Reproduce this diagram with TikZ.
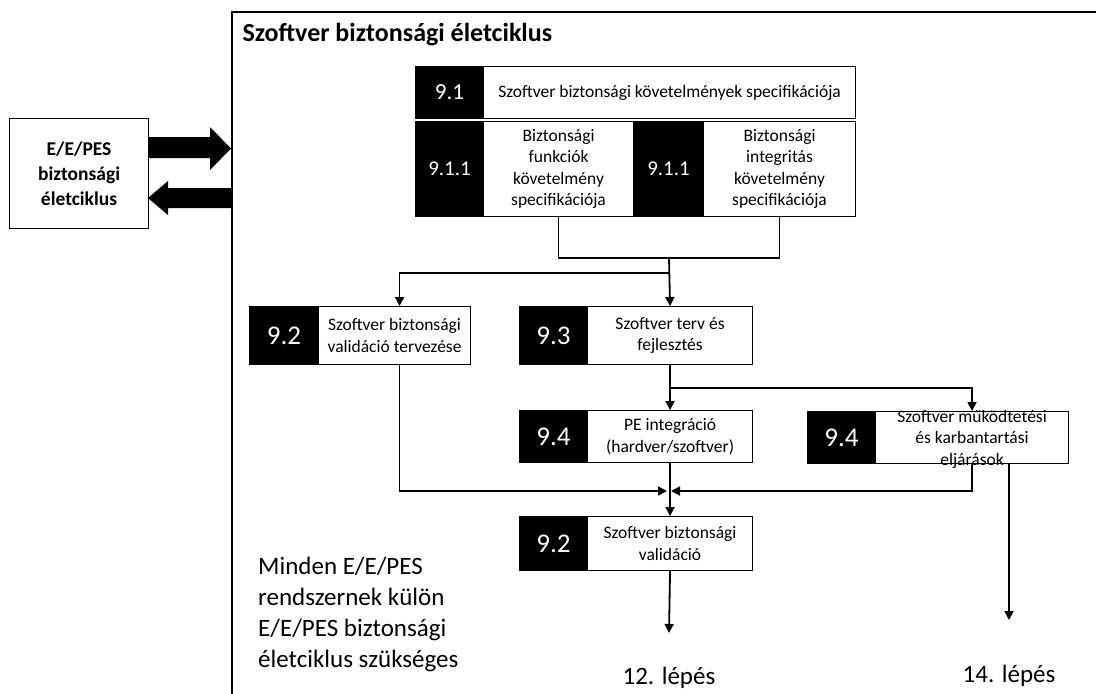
\documentclass[tikz,border=0pt]{standalone}
\usepackage{fontspec}
\setmainfont{Carlito}
\usetikzlibrary{arrows.meta,calc}

\begin{document}
\begin{tikzpicture}[x=1pt,y=-1pt,
  numbox/.style={draw=black, fill=black, text=white, inner sep=0pt,
    anchor=north west, line width=1.1pt},
  txtbox/.style={draw=black, fill=white, inner sep=0pt, align=center,
    anchor=north west, line width=1.1pt,
    font=\fontsize{17.5}{21.5}\selectfont},
  numA/.style={font=\fontsize{23}{27}\selectfont},
  numB/.style={font=\fontsize{21}{25}\selectfont},
  numC/.style={font=\fontsize{27}{31}\selectfont},
  conn/.style={line width=1.8pt},
  arr/.style={conn, -{Triangle[length=9pt,width=9pt]}},
  bigarrow/.style={fill=black, draw=none}]

\useasboundingbox (0,0) rectangle (1096,694);

% outer frame of the software life cycle
\coordinate (fb) at (232,694);
\coordinate (fc) at (232,12);
\coordinate (fr) at (1096,12);
\draw[line width=1.4pt] (fb) -- (fc) -- (fr);

\node[anchor=west, font=\bfseries\fontsize{26}{31}\selectfont] (title) at (239,35)
  {Szoftver biztonsági életciklus};

% E/E/PES box with the two block arrows
\node[draw, line width=1.1pt, anchor=north west, minimum width=139pt,
  minimum height=110pt, align=center, inner sep=0pt,
  font=\bfseries\fontsize{19.5}{25}\selectfont] (ees) at (9,118)
  {E/E/PES\\biztonsági\\életciklus};
\fill[bigarrow] (148,137) -- (210,137) -- (210,127) -- (231,148.5) -- (210,170)
  -- (210,158) -- (148,158) -- cycle;
\fill[bigarrow] (232,188) -- (168,188) -- (168,181) -- (148,198) -- (168,215)
  -- (168,208) -- (232,208) -- cycle;

% 9.1
\node[numbox, numA, minimum width=68pt, minimum height=52pt] (b91n) at (415,66) {9.1};
\node[txtbox, minimum width=372pt, minimum height=52pt] (b91t) at (483,66)
  {Szoftver biztonsági követelmények specifikációja};

% 9.1.1 pair
\node[numbox, numB, minimum width=68pt, minimum height=95pt] (b911an) at (415,121) {9.1.1};
\node[txtbox, minimum width=150pt, minimum height=95pt] (b911at) at (483,121)
  {Biztonsági\\funkciók\\követelmény\\specifikációja};
\node[numbox, numB, minimum width=70pt, minimum height=95pt] (b911bn) at (633,121) {9.1.1};
\node[txtbox, minimum width=152pt, minimum height=95pt] (b911bt) at (703,121)
  {Biztonsági\\integritás\\követelmény\\specifikációja};

% 9.2 and 9.3
\node[numbox, numC, minimum width=69pt, minimum height=58pt] (b92an) at (249,306) {9.2};
\node[txtbox, minimum width=152pt, minimum height=58pt] (b92at) at (318,306)
  {Szoftver biztonsági\\validáció tervezése};
\node[numbox, numC, minimum width=68pt, minimum height=58pt] (b93n) at (519,306) {9.3};
\node[txtbox, minimum width=165pt, minimum height=58pt] (b93t) at (587,306)
  {Szoftver terv és\\fejlesztés};

% 9.4 pair
\node[numbox, numC, minimum width=68pt, minimum height=52pt] (b94an) at (519,410) {9.4};
\node[txtbox, minimum width=165pt, minimum height=52pt] (b94at) at (587,410)
  {PE integráció\\(hardver/szoftver)};
\node[numbox, numC, minimum width=68pt, minimum height=52pt] (b94bn) at (807,411) {9.4};
\node[txtbox, minimum width=193pt, minimum height=52pt] (b94bt) at (875,411) {};
\node[align=center, inner sep=0pt, font=\fontsize{17.5}{21.5}\selectfont]
  (b94btx) at ($(b94bt.center)+(0,1.5)$) {Szoftver működtetési\\és karbantartási\\eljárások};

% 9.2 validation
\node[numbox, numC, minimum width=68pt, minimum height=54pt] (b92bn) at (519,516) {9.2};
\node[txtbox, minimum width=165pt, minimum height=54pt] (b92bt) at (587,516)
  {Szoftver biztonsági\\validáció};

% side note and exits
\node[anchor=north west, align=left, inner sep=0pt,
  font=\fontsize{25}{31}\selectfont] (note) at (258,557)
  {Minden E/E/PES\\rendszernek külön\\E/E/PES biztonsági\\életciklus szükséges};
\node[font=\fontsize{25}{30}\selectfont, inner sep=0pt] (s12) at (669,678) {12. lépés};
\node[font=\fontsize{25}{30}\selectfont, inner sep=0pt] (s14) at (1009,676) {14. lépés};

% connectors
\coordinate (j1) at (669,258);
\coordinate (j2) at (669,273);
\coordinate (j3) at (669,388);
\coordinate (mL) at (667,491);
\coordinate (mR) at (671,491);
\coordinate (i92) at ($(b92at.north)+(5,0)$);
\coordinate (o92) at ($(b92at.south)+(5,0)$);
\coordinate (o14) at (1009,463);
\coordinate (e12) at (669,633);
\coordinate (e14) at (1009,620);

\draw[conn] (b911at.south) |- (j1) -| (b911bt.south);
\draw[arr] (j1) -- (b93t.north);
\draw[arr] (j2) -| (i92);
\draw[arr] (b93t.south) -- (b94at.north);
\draw[arr] (j3) -| (b94bt.north);
\draw[arr] (o92) |- (mL);
\draw[arr] (b94bt.south) |- (mR);
\draw[arr] (b94at.south) -- (b92bt.north);
\draw[arr] (b92bt.south) -- (e12);
\draw[arr] (o14) -- (e14);

\end{tikzpicture}
\end{document}
